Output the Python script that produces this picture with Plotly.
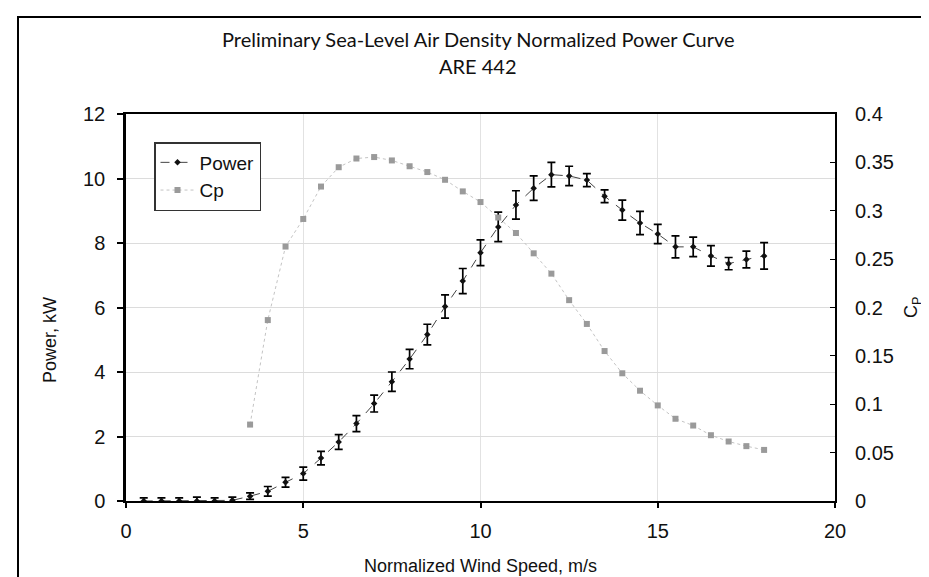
import plotly.graph_objects as go

# ---- data ----
wind_speed = [0.5, 1.0, 1.5, 2.0, 2.5, 3.0, 3.5, 4.0, 4.5, 5.0, 5.5, 6.0, 6.5, 7.0, 7.5, 8.0,
              8.5, 9.0, 9.5, 10.0, 10.5, 11.0, 11.5, 12.0, 12.5, 13.0, 13.5, 14.0, 14.5, 15.0,
              15.5, 16.0, 16.5, 17.0, 17.5, 18.0]
power_kw = [0.0, 0.0, 0.0, 0.0, 0.0, 0.02, 0.15, 0.30, 0.58, 0.85, 1.33, 1.83, 2.40, 3.02, 3.70, 4.40,
            5.16, 6.03, 6.82, 7.70, 8.50, 9.18, 9.70, 10.12, 10.08, 9.95, 9.45, 9.02, 8.62, 8.28,
            7.88, 7.88, 7.60, 7.36, 7.49, 7.60]
power_err = [0.10, 0.10, 0.10, 0.12, 0.10, 0.10, 0.10, 0.15, 0.15, 0.20, 0.21, 0.23, 0.25, 0.26, 0.30, 0.30,
             0.32, 0.36, 0.39, 0.40, 0.46, 0.44, 0.38, 0.38, 0.30, 0.20, 0.20, 0.31, 0.36, 0.30,
             0.34, 0.30, 0.32, 0.19, 0.26, 0.41]

cp_wind = [3.5, 4.0, 4.5, 5.0, 5.5, 6.0, 6.5, 7.0, 7.5, 8.0, 8.5, 9.0, 9.5, 10.0, 10.5, 11.0,
           11.5, 12.0, 12.5, 13.0, 13.5, 14.0, 14.5, 15.0, 15.5, 16.0, 16.5, 17.0, 17.5, 18.0]
cp_values = [0.079, 0.187, 0.263, 0.2915, 0.325, 0.345, 0.354, 0.3555, 0.352, 0.346, 0.340, 0.332,
             0.320, 0.309, 0.293, 0.277, 0.256, 0.235, 0.2076, 0.183, 0.155, 0.132, 0.114, 0.0988,
             0.085, 0.078, 0.068, 0.0615, 0.0567, 0.0528]

x_ticks = [0, 5, 10, 15, 20]
power_ticks = [0, 2, 4, 6, 8, 10, 12]
cp_ticks = [0, 0.05, 0.1, 0.15, 0.2, 0.25, 0.3, 0.35, 0.4]
cp_tick_text = ["0", "0.05", "0.1", "0.15", "0.2", "0.25", "0.3", "0.35", "0.4"]

title_line1 = "Preliminary Sea-Level Air Density Normalized Power Curve"
title_line2 = "ARE 442"

W, H = 929, 577
L, R, T, B = 118, 102, 106, 84
pw, ph = W - L - R, H - T - B


def px2x(px):
    return (px - L) / pw


def px2y(py):
    return (H - B - py) / ph


SANS = "Liberation Sans, Arial, sans-serif"
TICK_FONT = dict(family=SANS, size=20, color="#111111")
TITLE_FONT = dict(family=SANS, size=18, color="#111111")
HEAD_FONT = dict(family="Lato, Open Sans, sans-serif", size=20, color="#111111")

fig = go.Figure()

fig.add_trace(go.Scatter(
    x=wind_speed, y=power_kw, name="Power", mode="lines+markers",
    line=dict(color="#444444", width=1, dash="dash"),
    marker=dict(symbol="diamond", size=5, color="#111111"),
    error_y=dict(type="data", array=power_err, visible=True, color="#000000", thickness=1.7, width=4),
    yaxis="y",
))

fig.add_trace(go.Scatter(
    x=cp_wind, y=cp_values, name="Cp", mode="lines+markers",
    line=dict(color="#c4c4c4", width=1, dash="dot"),
    marker=dict(symbol="square", size=6, color="#9a9a9a"),
    yaxis="y2",
))

fig.update_layout(
    width=W, height=H,
    margin=dict(l=L, r=R, t=T, b=B),
    paper_bgcolor="white", plot_bgcolor="white",
    font=TICK_FONT,
    xaxis=dict(
        range=[0, 20], tickvals=x_ticks, ticks="outside", ticklen=5, tickwidth=1.5, tickcolor="black",
        showline=True, linecolor="black", linewidth=2, mirror=True,
        showgrid=True, gridcolor="#e2e2e2", gridwidth=1, zeroline=False,
        tickfont=TICK_FONT, ticklabelstandoff=6,
    ),
    yaxis=dict(
        range=[0, 12], tickvals=power_ticks, ticks="outside", ticklen=6, tickwidth=1.5, tickcolor="black",
        showline=True, linecolor="black", linewidth=2.5,
        showgrid=True, gridcolor="#dcdcdc", gridwidth=1, zeroline=False,
        tickfont=TICK_FONT, ticklabelstandoff=8,
    ),
    yaxis2=dict(
        range=[0, 0.4], tickvals=cp_ticks, ticktext=cp_tick_text, overlaying="y", side="right",
        ticks="inside", ticklen=5, tickwidth=1, tickcolor="black",
        showline=True, linecolor="black", linewidth=2,
        showgrid=False, zeroline=False,
        tickfont=TICK_FONT, ticklabelstandoff=14,
    ),
    legend=dict(
        x=px2x(146), y=px2y(134), xanchor="left", yanchor="top",
        bordercolor="#333333", borderwidth=1.5, bgcolor="white",
        font=dict(family=SANS, size=19, color="#111111"),
        itemwidth=34, tracegroupgap=4,
    ),
    showlegend=True,
)

# titles as annotations
fig.add_annotation(text=title_line1, x=px2x(470), y=px2y(31), xref="paper", yref="paper",
                   xanchor="center", yanchor="middle", showarrow=False, font=HEAD_FONT)
fig.add_annotation(text=title_line2, x=px2x(470), y=px2y(58), xref="paper", yref="paper",
                   xanchor="center", yanchor="middle", showarrow=False, font=HEAD_FONT)
fig.add_annotation(text="Normalized Wind Speed, m/s", x=px2x(472), y=px2y(558), xref="paper", yref="paper",
                   xanchor="center", yanchor="middle", showarrow=False, font=TITLE_FONT)
fig.add_annotation(text="Power, kW", x=px2x(42), y=px2y(332), xref="paper", yref="paper",
                   xanchor="center", yanchor="middle", showarrow=False, textangle=-90, font=TITLE_FONT)
fig.add_annotation(text="C<sub>P</sub>", x=px2x(904), y=px2y(300), xref="paper", yref="paper",
                   xanchor="center", yanchor="middle", showarrow=False, textangle=-90, font=TITLE_FONT)

# outer chart frame (left and top edges visible in the reference)
fig.add_shape(type="line", xref="paper", yref="paper",
              x0=px2x(10), y0=px2y(577), x1=px2x(10), y1=px2y(9),
              line=dict(color="black", width=2))
fig.add_shape(type="line", xref="paper", yref="paper",
              x0=px2x(9), y0=px2y(9), x1=px2x(929), y1=px2y(9),
              line=dict(color="black", width=2))

fig.write_html("out.html")
